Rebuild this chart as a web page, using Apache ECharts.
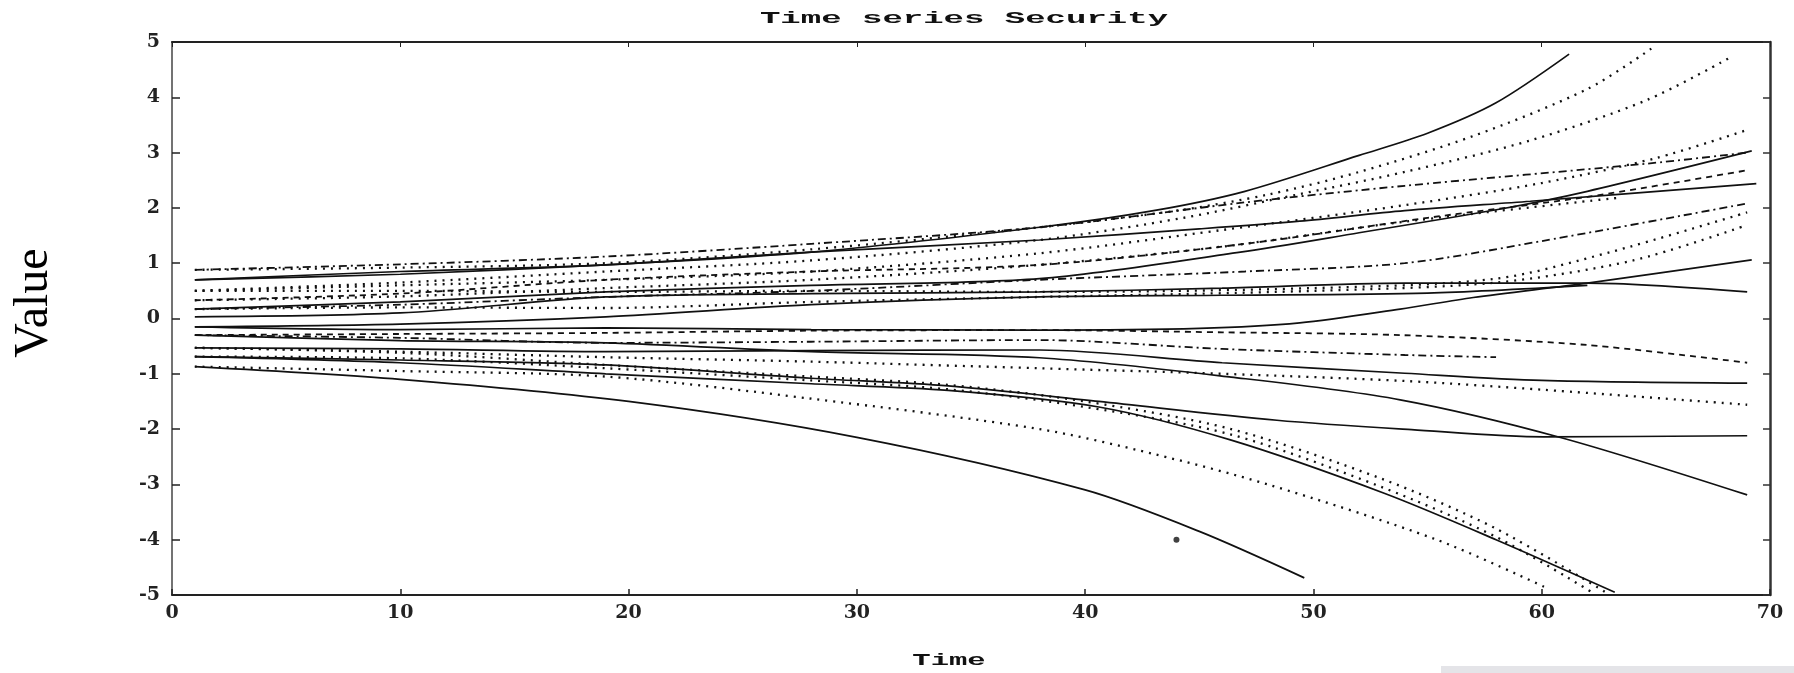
<!DOCTYPE html>
<html>
<head>
<meta charset="utf-8">
<script src="https://cdn.jsdelivr.net/npm/echarts@6/dist/echarts.min.js"></script>
<style>
html,body{margin:0;padding:0;background:#fff;}
#chart{width:1794px;height:673px;}
</style>
</head>
<body>
<div id="chart"></div>
<script>
// ---- data: [time, value] pairs ----
const s01 = [[1,0.7],[10,0.8],[19,0.97],[28,1.2],[38,1.65],[43,1.95],[47,2.3],[52,2.95],[55,3.35],[58,3.9],[61.2,4.78]];
const s02 = [[1,0.88],[10,0.92],[19,1.0],[28,1.25],[38,1.65],[44,1.95],[48,2.24],[52,2.65],[57,3.3],[62,4.15],[64.8,4.88]];
const s03 = [[1,0.5],[10,0.65],[19,0.85],[28,1.05],[38,1.42],[44.3,1.82],[49.4,2.25],[54,2.65],[59.5,3.22],[64.6,3.95],[68.3,4.73]];
const s04 = [[1,0.5],[10,0.6],[19,0.7],[28,0.85],[38,1.18],[46,1.6],[54,2.05],[60,2.45],[65,2.9],[69,3.41]];
const s05 = [[1,0.17],[10,0.3],[19,0.48],[28,0.6],[38,0.72],[46.8,1.2],[52,1.55],[58.2,1.98],[62,2.3],[69.2,3.03]];
const s06 = [[1,0.88],[10,0.98],[19,1.12],[28,1.35],[38,1.65],[47,2.1],[54,2.4],[64.6,2.8],[69,3.0]];
const s07 = [[1,0.33],[10,0.45],[19,0.7],[28,0.85],[38,0.97],[47,1.35],[55,1.82],[62,2.2],[69,2.68]];
const s08 = [[1,0.7],[10,0.85],[19,0.97],[28,1.2],[38,1.42],[45,1.62],[49.4,1.76],[54,1.95],[59.5,2.12],[69.4,2.44]];
const s09 = [[1,0.33],[10,0.4],[19,0.55],[28,0.7],[38,0.97],[46,1.3],[54,1.75],[63.3,2.18]];
const s10 = [[1,0.17],[10,0.25],[19,0.39],[28,0.5],[38,0.7],[47,0.85],[54,1.0],[60,1.4],[69,2.08]];
const s11 = [[1,0.5],[10,0.5],[19,0.48],[28,0.5],[38,0.48],[50,0.55],[58,0.72],[63,1.2],[69,1.92]];
const s12 = [[1,0.17],[10,0.2],[19,0.19],[28,0.3],[38,0.39],[50,0.5],[58,0.65],[64,1.05],[69,1.69]];
const s13 = [[1,-0.15],[10,-0.2],[19,-0.17],[28,-0.2],[38,-0.21],[45,-0.18],[49.4,-0.08],[53.8,0.17],[57,0.38],[62,0.64],[69.2,1.06]];
const s14 = [[1,0.03],[10,0.1],[19,0.39],[28,0.45],[38,0.48],[46,0.55],[54,0.64],[62,0.64],[69,0.48]];
const s15 = [[1,-0.15],[10,-0.1],[19,0.03],[28,0.25],[38,0.39],[46,0.42],[55,0.46],[62,0.6]];
const s16 = [[1,-0.3],[10,-0.28],[19,-0.26],[28,-0.22],[38,-0.21],[46,-0.25],[53.8,-0.3],[62,-0.48],[69,-0.8]];
const s17 = [[1,-0.3],[10,-0.35],[19,-0.44],[28,-0.42],[38,-0.39],[46,-0.55],[54,-0.66],[58,-0.7]];
const s18 = [[1,-0.53],[10,-0.55],[19,-0.6],[28,-0.58],[38,-0.57],[46,-0.8],[54,-0.99],[60,-1.12],[69,-1.17]];
const s19 = [[1,-0.53],[10,-0.6],[19,-0.7],[28,-0.78],[38,-0.9],[46,-1.0],[54,-1.13],[60.1,-1.29],[69,-1.56]];
const s20 = [[1,-0.3],[10,-0.4],[19,-0.44],[28,-0.6],[38,-0.71],[46.4,-1.06],[53.8,-1.47],[60.9,-2.16],[69,-3.19]];
const s21 = [[1,-0.69],[10,-0.75],[19,-0.84],[28,-1.08],[34,-1.22],[40.6,-1.5],[48.4,-1.84],[54.3,-2.01],[60.1,-2.14],[69,-2.12]];
const s22 = [[1,-0.69],[10,-0.8],[19,-1.0],[28,-1.18],[34,-1.3],[40.6,-1.6],[46.4,-2.2],[53.1,-3.16],[58,-4.0],[63.2,-4.95]];
const s23 = [[1,-0.53],[10,-0.62],[19,-0.84],[28,-1.05],[34,-1.2],[40,-1.5],[46.4,-2.0],[53,-2.9],[58,-3.8],[62.8,-4.95]];
const s24 = [[1,-0.69],[10,-0.72],[19,-0.9],[28,-1.12],[34,-1.28],[40,-1.6],[46.4,-2.1],[53,-3.05],[58,-3.95],[62.2,-4.95]];
const s25 = [[1,-0.87],[10,-0.95],[19,-1.05],[28,-1.45],[38,-2.0],[43,-2.45],[48,-3.0],[55.4,-4.0],[60.1,-4.85]];
const s26 = [[1,-0.87],[10,-1.1],[20,-1.5],[30,-2.15],[40,-3.1],[45,-3.85],[49.6,-4.69]];
const strayPoint = [[44,-4.0]];

const titleText = 'Time series Security';
const xName = 'Time';
const yName = 'Value';

// ---- styles (kept apart from data) ----
const allSeries = [s01,s02,s03,s04,s05,s06,s07,s08,s09,s10,s11,s12,s13,s14,s15,s16,s17,s18,s19,s20,s21,s22,s23,s24,s25,s26];
const kinds = ['solid','dotted','dotted','dotted','solid','dashdot','dashed','solid','dotted','dashdot','dotted','dotted','solid',
               'solid','solid','dashed','dashdot','solid','dotted','solid','solid','solid','dotted','dotted','dotted','solid'];
const dashOf = {solid:'solid', dotted:[2,6], dashed:[6,5], dashdot:[8,4,2,4]};
const widthOf = {solid:1.7, dotted:2.3, dashed:1.8, dashdot:1.8};

const series = allSeries.map((d,i)=>({
  type:'line', data:d, smooth:0.3, showSymbol:false, symbol:'none', silent:true,
  lineStyle:{color:'#111', width:widthOf[kinds[i]], type:dashOf[kinds[i]]},
  z:2
}));
series.push({type:'scatter', data:strayPoint, symbolSize:6, itemStyle:{color:'#111'}, silent:true});

const labelFont = {fontFamily:'DejaVu Serif', fontWeight:'bold', fontSize:19, color:'#222'};

const chart = echarts.init(document.getElementById('chart'), null, {renderer:'canvas'});
chart.setOption({
  animation:false,
  backgroundColor:'#fff',
  grid:{left:172, right:24, top:42, bottom:78, containLabel:false},
  xAxis:[
    {type:'value', min:0, max:70, interval:10, position:'bottom',
     axisLine:{show:true, onZero:false, lineStyle:{color:'#222', width:2}},
     axisTick:{show:true, inside:true, length:6, lineStyle:{color:'#222', width:1.5}},
     axisLabel:Object.assign({margin:9}, labelFont),
     splitLine:{show:false}},
    {type:'value', min:0, max:70, interval:10, position:'top',
     axisLine:{show:true, onZero:false, lineStyle:{color:'#222', width:2}},
     axisTick:{show:true, inside:true, length:5, lineStyle:{color:'#222'}},
     axisLabel:{show:false}, splitLine:{show:false}}
  ],
  yAxis:[
    {type:'value', min:-5, max:5, interval:1, position:'left',
     axisLine:{show:true, onZero:false, lineStyle:{color:'#444', width:1.5}},
     axisTick:{show:true, inside:true, length:8, lineStyle:{color:'#222', width:1.5}},
     axisLabel:Object.assign({margin:12}, labelFont),
     splitLine:{show:false}},
    {type:'value', min:-5, max:5, interval:1, position:'right',
     axisLine:{show:true, onZero:false, lineStyle:{color:'#333', width:2.5}},
     axisTick:{show:true, inside:true, length:7, lineStyle:{color:'#333', width:1.5}},
     axisLabel:{show:false}, splitLine:{show:false}}
  ],
  series:series,
  graphic:[
    {type:'text', x:964, y:19, scaleX:2.0, silent:true,
     style:{text:titleText, x:0, y:0, align:'center', verticalAlign:'middle',
            fontFamily:'Liberation Mono', fontWeight:'bold', fontSize:17, fill:'#111'}},
    {type:'text', x:949, y:661, scaleX:1.8, silent:true,
     style:{text:xName, x:0, y:0, align:'center', verticalAlign:'middle',
            fontFamily:'Liberation Mono', fontWeight:'bold', fontSize:17, fill:'#111'}},
    {type:'text', x:34, y:303, rotation:Math.PI/2, silent:true,
     style:{text:yName, x:0, y:0, align:'center', verticalAlign:'middle',
            fontFamily:'Liberation Serif', fontSize:48, fill:'#000'}},
    {type:'rect', shape:{x:1441, y:666, width:353, height:7}, silent:true,
     style:{fill:'#e4e4e8'}}
  ]
});
</script>
</body>
</html>
